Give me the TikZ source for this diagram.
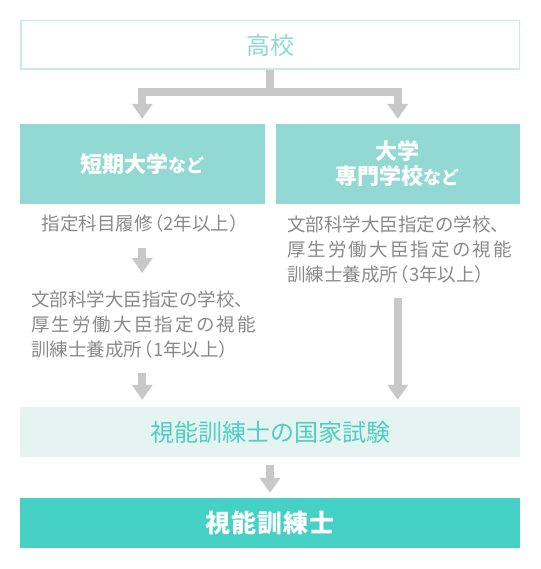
\documentclass[tikz,border=0pt]{standalone}
\usepackage{fontspec}
\setmainfont{Noto Sans CJK JP}
\usepackage{xcolor}
\usepackage{tikz}
\usetikzlibrary{arrows.meta, positioning}

\definecolor{tealline}{HTML}{C6EBE8}
\definecolor{teallight}{HTML}{8FD9D1}
\definecolor{tealbox}{HTML}{93D9D3}
\definecolor{tealpale}{HTML}{E6F4F1}
\definecolor{tealtext}{HTML}{4ECFC3}
\definecolor{tealdark}{HTML}{46D1C7}
\definecolor{greytext}{HTML}{8A8A8A}
\definecolor{greypipe}{HTML}{C8C8C8}

\newcommand\lpar{\kern-0.4em（}
\newcommand\rpar{）\kern-0.4em}
\newcommand\spreadline[1]{\makebox[225pt][s]{#1}}

\begin{document}
\begin{tikzpicture}[
    x=1pt, y=-1pt,
    wide/.style={minimum width=500pt, minimum height=50pt,
                 inner sep=0pt},
    school/.style={fill=tealbox, minimum width=244.5pt,
                   minimum height=80pt, inner sep=0pt, align=center,
                   text=white, font=\fontsize{22}{26}\selectfont\bfseries},
    note/.style={text=greytext, inner sep=0pt,
                 font=\fontsize{18.5}{25}\selectfont},
    pipe/.style={draw=greypipe, line width=8pt, line join=miter,
                 -{Triangle[width=20pt, length=15pt]}}
  ]
  \useasboundingbox (0,0) rectangle (540,569);

  % entry
  \node[wide, draw=tealline, line width=1.5pt, minimum width=498.5pt,
        minimum height=48.5pt, text=teallight,
        font=\fontsize{24}{28}\selectfont]
    (koukou) at (270,45) {高校};

  % two routes
  \node[school] (tandai) at (142.25,164)
    {短期大学{\fontsize{18}{22}\selectfont など}};
  \node[school] (daigaku) at (397.75,164)
    {大学\\[-1pt]専門学校{\fontsize{18}{22}\selectfont など}};

  % route details
  \node[note] (shitei) at (141,223) {指定科目履修\lpar 2年以上\rpar};
  \node[note, text width=225pt, align=left] (ikusei1) at (143.5,325)
    {文部科学大臣指定の学校、\\
     \spreadline{厚\hfil 生\hfil 労\hfil 働\hfil 大\hfil 臣\hfil 指\hfil 定\hfil の\hfil 視\hfil 能}\\
     訓練士養成所\lpar 1年以上\rpar};
  \node[note, text width=225pt, align=left] (ikusei3) at (399.5,250)
    {文部科学大臣指定の学校、\\
     \spreadline{厚\hfil 生\hfil 労\hfil 働\hfil 大\hfil 臣\hfil 指\hfil 定\hfil の\hfil 視\hfil 能}\\
     訓練士養成所\lpar 3年以上\rpar};

  % exam and result
  \node[wide, fill=tealpale, text=tealtext,
        font=\fontsize{24}{28}\selectfont]
    (exam) at (270,432) {視能訓練士の国家試験};
  \node[wide, fill=tealdark, text=white,
        font=\fontsize{25}{28}\selectfont\bfseries]
    (final) at (270,523) {視\kern1pt 能\kern1pt 訓\kern1pt 練\kern1pt 士};

  % connectors
  \draw[pipe, shorten >=5pt] (koukou.south) -- ++(0,22) -| (tandai.north);
  \draw[pipe, shorten >=5pt] (koukou.south) -- ++(0,22) -| (daigaku.north);
  \draw[pipe, shorten <=25pt, shorten >=52pt]
    (tandai |- shitei) -- (tandai |- ikusei1);
  \draw[pipe, shorten <=48pt, shorten >=7pt]
    (tandai |- ikusei1) -- (tandai |- exam.north);
  \draw[pipe, shorten <=48pt, shorten >=7pt]
    (daigaku |- ikusei3) -- (daigaku |- exam.north);
  \draw[pipe, shorten <=8pt, shorten >=5pt] (exam.south) -- (final.north);
\end{tikzpicture}
\end{document}
